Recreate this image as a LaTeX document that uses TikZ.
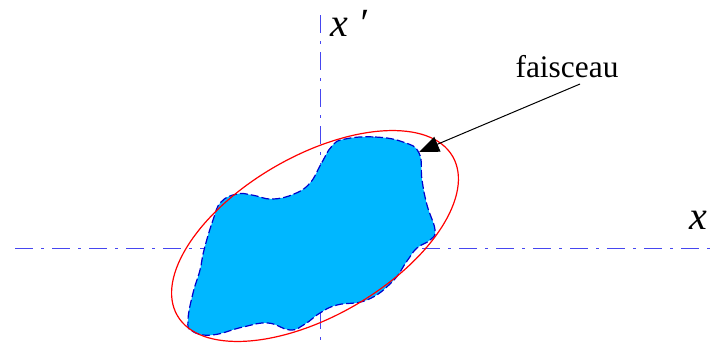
\documentclass[tikz,border=0pt]{standalone}
\usepackage{fontspec}
\setmainfont{Liberation Serif}
\usepackage{xcolor}
\usetikzlibrary{arrows.meta}
\definecolor{faisceaubleu}{RGB}{0,183,255}
\definecolor{axebleu}{RGB}{70,70,240}

\begin{document}
\begin{tikzpicture}[x=0.5pt, y=-0.5pt,
    axe line/.style={axebleu, line width=0.5pt, dash pattern=on 9pt off 4pt on 1.5pt off 4pt},
    label axe/.style={font=\fontsize{20}{24}\selectfont\itshape, inner sep=0pt}]
    \useasboundingbox (0, 0) rectangle (716, 343);

    % axes x et x'
    \coordinate (xg) at (15, 248);
    \coordinate (xd) at (712, 248);
    \coordinate (xh) at (320, 15);
    \coordinate (xb) at (320, 343);
    \draw[axe line] (xg) -- (xd);
    \draw[axe line] (xh) -- (xb);
    \node[label axe] (lx) at (698, 220) {x};
    \node[label axe] (lxp) at (349, 23) {x \char"2032};

    % faisceau
    \fill[faisceaubleu, draw=blue!80!black, line width=0.6pt, dash pattern=on 4pt off 1.5pt]
        plot[smooth cycle, tension=0.75] coordinates {
        (345,139) (375,137) (403,142) (419,153) (422,180) (427,205) (435,230)
        (430,240) (417,248) (407,261) (392,282) (367,300) (337,305) (320,313)
        (305,324) (290,330) (268,323) (243,327) (212,335) (192,331) (188,320)
        (193,293) (200,270) (204,250) (213,220) (221,202) (237,194) (252,195)
        (272,199) (294,194) (310,183) (321,164) (332,146)};

    % ellipse
    \coordinate (c) at (315, 236);
    \draw[red, line width=0.6pt, rotate around={30:(c)}] (c) ellipse [x radius=159, y radius=80];

    % etiquette et fleche
    \node[font=\fontsize{15.7}{18}\selectfont, inner sep=1pt] (faisceau) at (567, 67) {faisceau};
    \coordinate (queue) at (580, 84);
    \coordinate (pointe) at (419, 152);
    \draw[line width=0.5pt, -{Triangle[length=10pt, width=8pt]}] (queue) -- (pointe);
\end{tikzpicture}
\end{document}
